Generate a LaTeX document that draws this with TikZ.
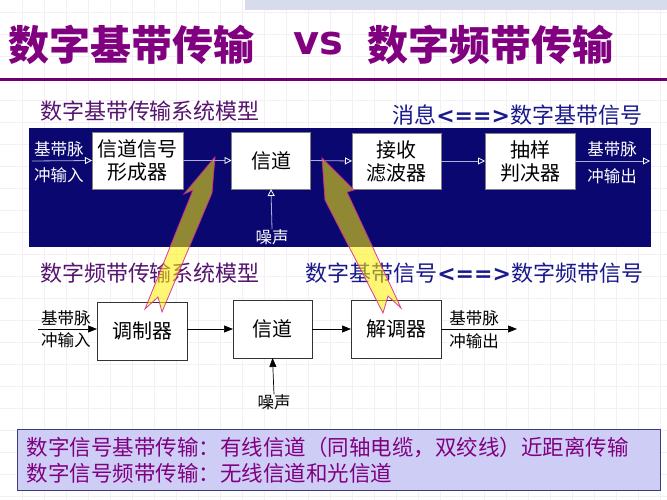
\documentclass[tikz,border=0pt]{standalone}
\usepackage{fontspec}
\setmainfont{Noto Sans CJK SC}
\newfontfamily\latb{DejaVu Sans}
\usetikzlibrary{arrows.meta}
\definecolor{ttlpurple}{RGB}{128,0,128}
\definecolor{subpurple}{RGB}{85,20,110}
\definecolor{subnavy}{RGB}{25,25,140}
\definecolor{navybg}{RGB}{10,8,112}
\definecolor{gridc}{RGB}{243,239,244}
\definecolor{bandc}{RGB}{214,220,236}
\definecolor{toplinec}{RGB}{175,175,215}
\definecolor{notefill}{RGB}{205,205,246}
\definecolor{noteedge}{RGB}{60,60,120}
\definecolor{boltedge}{RGB}{215,40,150}
\begin{document}
\begin{tikzpicture}[x=1pt,y=-1pt,
  every node/.style={inner sep=0pt, outer sep=0pt},
  ttl/.style={font=\fontsize{41}{41}\selectfont\bfseries, text=ttlpurple},
  subh/.style={font=\fontsize{22}{22}\selectfont},
  wbox/.style={draw=gray, fill=white, line width=0.6pt, align=center,
    font=\fontsize{20}{23}\selectfont},
  bbox/.style={draw=black!80, fill=white, line width=0.8pt, align=center,
    font=\fontsize{20}{23}\selectfont},
  wlab/.style={text=white, font=\fontsize{16.5}{16.5}\selectfont},
  blab/.style={text=black, font=\fontsize{16.5}{16.5}\selectfont},
  topar/.style={draw=toplinec, line width=0.8pt,
    -{Triangle[open, length=7pt, width=7pt, color=white]}},
  botar/.style={draw=black, line width=0.7pt, -{Triangle[length=9pt, width=7pt]}},
  bolt/.style={fill=yellow, fill opacity=0.55, draw=boltedge, line width=0.8pt, draw opacity=0.9}
]
\useasboundingbox (0,0) rectangle (667,500);
\fill[white] (0,0) rectangle (667,500);
\foreach \i in {1,...,30} \draw[gridc, line width=0.5pt] ({\i*22},0) -- ({\i*22},500);
\foreach \i in {0,...,22} \draw[gridc, line width=0.5pt] (0,{\i*22+12}) -- (667,{\i*22+12});
\fill[bandc] (245,0) rectangle (667,10);
\draw[ttlpurple!85!black, line width=3pt] (0,80) -- (667,80);

% title
\node[ttl, anchor=west] (t1) at (9,45) {数字基带传输};
\node[anchor=center, text=ttlpurple, font=\latb\fontsize{40}{40}\selectfont\bfseries] (vs) at (318,44) {vs};
\node[ttl, anchor=west] (t2) at (367,45) {数字频带传输};

% top section
\node[subh, text=subpurple, anchor=west] (h1) at (40,111) {数字基带传输系统模型};
\node[subh, text=subnavy, anchor=east] (h2) at (642,115) {消息{\latb\bfseries <==>}数字基带信号};
\fill[navybg] (29,128) rectangle (651,247);

\node[wbox, minimum width=91pt, minimum height=57pt] (b1) at (137.5,160.5) {信道信号\\形成器};
\node[wbox, minimum width=79pt, minimum height=57pt] (b2) at (271,160.5) {信道};
\node[wbox, minimum width=89pt, minimum height=56pt] (b3) at (396.5,161) {接收\\滤波器};
\node[wbox, minimum width=90pt, minimum height=56pt] (b4) at (530,161) {抽样\\判决器};

\coordinate (in1) at (32,161);
\coordinate (out1) at (650,161);
\draw[topar] (in1) -- (b1.west);
\draw[topar] (b1.east) -- (b2.west);
\draw[topar] (b2.east) -- (b3.west);
\draw[topar] (b3.east) -- (b4.west);
\draw[topar] (b4.east) -- (out1);
\node[wlab] (l1a) at (59,149) {基带脉};
\node[wlab] (l1b) at (59,175) {冲输入};
\node[wlab] (l2a) at (612,149) {基带脉};
\node[wlab] (l2b) at (612,176) {冲输出};
\node[wlab] (n1) at (272,237) {噪声};
\draw[topar] (n1.north) -- (b2.south);

% bottom section
\node[subh, text=subpurple, anchor=west] (h3) at (40,273) {数字频带传输系统模型};
\node[subh, text=subnavy, anchor=east] (h4) at (643,273) {数字基带信号{\latb\bfseries <==>}数字频带信号};

\node[bbox, minimum width=90pt, minimum height=58pt] (c1) at (142,331) {调制器};
\node[bbox, minimum width=79pt, minimum height=58pt] (c2) at (272.5,329) {信道};
\node[bbox, minimum width=90pt, minimum height=58pt] (c3) at (396,329) {解调器};
\coordinate (in2) at (38,329);
\coordinate (out2) at (517,329);
\draw[botar] (in2) -- (c1.west |- in2);
\draw[botar] (c1.east |- c2.west) -- (c2.west);
\draw[botar] (c2.east) -- (c3.west);
\draw[botar] (c3.east) -- (out2);
\node[blab] (l3a) at (66,318) {基带脉};
\node[blab] (l3b) at (66,340) {冲输入};
\node[blab] (l4a) at (474,318) {基带脉};
\node[blab] (l4b) at (474,341) {冲输出};
\node[blab] (n2) at (274,402) {噪声};
\draw[botar] (n2.north) -- (c2.south);

% lightning arrows
\draw[bolt] (215,157) -- (184,194) -- (193,190) -- (145,309) -- (158,297) -- (162,312) -- (212,193) -- cycle;
\draw[bolt] (322,158) -- (325,200) -- (383,313) -- (388,296) -- (401,308) -- (347,192) -- (354,190) -- cycle;

% note box
\node[draw=noteedge, fill=notefill, line width=0.8pt, minimum width=643pt, minimum height=61pt,
  anchor=north west] (note) at (17,429) {};
\node[anchor=west, text=ttlpurple, font=\fontsize{21.5}{21.5}\selectfont] (nl1) at (27,447)
  {数字信号基带传输：有线信道（同轴电缆，双绞线）近距离传输};
\node[anchor=west, text=ttlpurple, font=\fontsize{21.5}{21.5}\selectfont] (nl2) at (27,473)
  {数字信号频带传输：无线信道和光信道};
\end{tikzpicture}
\end{document}
